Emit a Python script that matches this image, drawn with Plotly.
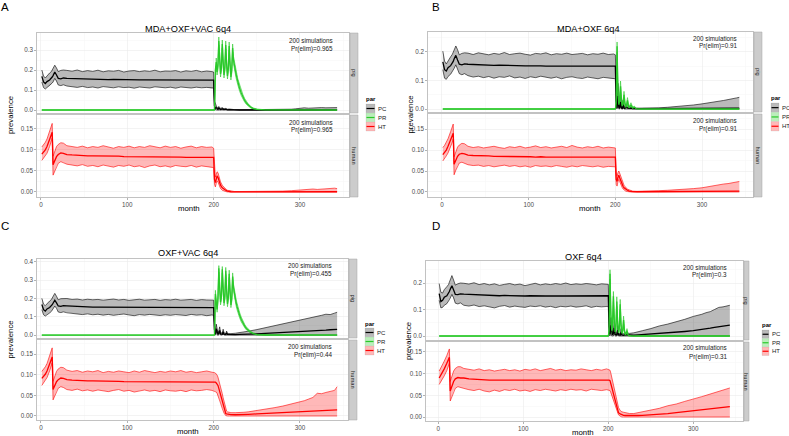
import plotly.graph_objects as go

W, H = 789, 436
FONT = "Liberation Sans, Arial, sans-serif"

# ------------------------------------------------------------------ data
TITLES = ["MDA+OXF+VAC 6q4", "MDA+OXF 6q4", "OXF+VAC 6q4", "OXF 6q4"]
LETTERS = ["A", "B", "C", "D"]
N_SIM = 200
PR_ELIM_PIG = ["0.965", "0.91", "0.455", "0.3"]
PR_ELIM_HUMAN = ["0.965", "0.91", "0.44", "0.31"]
SERIES = ["PC", "PR", "HT"]
FACETS = ["pig", "human"]
X_TICKS = [0, 100, 200, 300]
X_MINOR = [50, 150, 250, 350]
PIG_Y_TICKS = [[0, 0.1, 0.2, 0.3], [0, 0.1, 0.2], [0, 0.1, 0.2, 0.3, 0.4], [0, 0.1, 0.2]]
HUMAN_Y_TICKS = [0, 0.05, 0.10, 0.15]

MONTHS_PRE = [1, 3, 5, 7, 10, 12, 13, 14, 16, 18, 20, 23, 26,
              30, 36, 42, 48, 54, 60, 66, 72, 78, 84, 90, 96, 102, 108, 114, 120,
              126, 132, 138, 144, 150, 156, 162, 168, 174, 180, 186, 192, 198, 200]

# ---- panel A
A_PC_MED_PRE = [0.168,0.140,0.132,0.142,0.150,0.158,0.165,0.172,0.190,0.175,0.158,0.156,0.160,
 0.158,0.157,0.155,0.154,0.154,0.153,0.153,0.152,0.152,0.153,
 0.152,0.152,0.151,0.152,0.151,0.151,0.151,0.150,0.151,0.151,
 0.150,0.150,0.151,0.150,0.150,0.151,0.150,0.150,0.149,0.149]
A_PC_LO_PRE = [0.140,0.112,0.105,0.112,0.120,0.128,0.135,0.140,0.158,0.145,0.125,0.122,0.126,
 0.120,0.116,0.113,0.118,0.112,0.115,0.110,0.117,0.113,0.111,
 0.116,0.112,0.114,0.109,0.115,0.112,0.110,0.116,0.113,0.111,
 0.114,0.109,0.115,0.112,0.110,0.114,0.111,0.113,0.108,0.110]
A_PC_HI_PRE = [0.200,0.170,0.160,0.172,0.185,0.192,0.200,0.208,0.224,0.210,0.192,0.198,0.200,
 0.198,0.194,0.200,0.192,0.197,0.193,0.199,0.191,0.196,0.194,
 0.198,0.190,0.195,0.197,0.192,0.196,0.193,0.199,0.191,0.195,
 0.194,0.197,0.190,0.196,0.193,0.198,0.191,0.195,0.192,0.190]
A_HT_MED_PRE = [0.090,0.095,0.100,0.108,0.125,0.138,0.142,0.065,0.075,0.084,0.089,0.093,0.092,
 0.089,0.088,0.087,0.087,0.086,0.086,0.086,0.085,0.085,0.085,
 0.085,0.084,0.084,0.084,0.084,0.084,0.083,0.083,0.083,0.083,
 0.083,0.083,0.083,0.082,0.082,0.082,0.082,0.082,0.082,0.082]
A_HT_LO_PRE = [0.075,0.080,0.085,0.092,0.108,0.120,0.128,0.040,0.050,0.062,0.068,0.072,0.070,
 0.066,0.064,0.062,0.065,0.061,0.063,0.060,0.064,0.062,0.059,
 0.063,0.061,0.064,0.060,0.062,0.058,0.062,0.064,0.060,0.062,
 0.059,0.063,0.061,0.060,0.063,0.059,0.062,0.060,0.058,0.058]
A_HT_HI_PRE = [0.107,0.112,0.118,0.126,0.145,0.158,0.163,0.085,0.098,0.108,0.113,0.117,0.116,
 0.110,0.108,0.106,0.109,0.105,0.108,0.106,0.110,0.107,0.104,
 0.108,0.106,0.109,0.105,0.108,0.106,0.110,0.107,0.105,0.109,
 0.106,0.108,0.104,0.107,0.109,0.105,0.108,0.106,0.107,0.104]
A_MONTHS_POST = [201,202,203,204,205,206,207,208,210,212,214,216,218,220,224,230,240,250,260,270,
 280,290,295,300,305,310,315,320,325,330,335,340,343]
A_PC_MED_POST = [0.020,0.008,0.012,0.004,0.003,0.010,0.003,0.002,0.006,0.002,0.004,0.001,0.002,0.001,
 0.0005,0,0,0,0,0,0,0,0,0,0,0,0,0.0003,0.0003,0.0004,0.0004,0.0005,0.0005]
A_PC_LO_POST = [0.004,0,0,0,0,0,0,0,0,0,0,0,0,0,0,0,0,0,0,0,0,0,0,0,0,0,0,0,0,0,0,0,0]
A_PC_HI_POST = [0.045,0.025,0.022,0.012,0.010,0.018,0.010,0.008,0.012,0.006,0.008,0.004,0.005,0.003,
 0.002,0.001,0.001,0.001,0.002,0.002,0.003,0.004,0.006,0.010,0.011,0.009,0.011,0.010,0.012,0.011,
 0.012,0.013,0.012]
A_HT_MED_POST = [0.030,0.022,0.030,0.038,0.035,0.028,0.021,0.016,0.010,0.006,0.004,0.002,0.001,0.0005,
 0.0003,0.0003,0.0003,0.0003,0.0003,0.0003,0.0003,0.0003,0.0003,0.0004,0.0004,0.0004,0.0004,0.0005,
 0.0005,0.0005,0.0005,0.0005,0.0005]
A_HT_LO_POST = [0.018,0.012,0.020,0.026,0.024,0.018,0.012,0.008,0.004,0.002,0.001,0,0,0,0,0,0,0,0,0,
 0,0,0,0,0,0,0,0,0,0,0,0,0]
A_HT_HI_POST = [0.045,0.035,0.042,0.048,0.046,0.038,0.030,0.024,0.016,0.010,0.007,0.004,0.003,0.002,
 0.001,0.001,0.001,0.001,0.0015,0.002,0.002,0.003,0.004,0.005,0.006,0.006,0.007,0.006,0.007,0.008,
 0.008,0.009,0.008]
A_PR_MONTHS = [1,200,201,202,203,204,205,206,207,208,209,210,211,212,213,214,215,216,217,218,
 219,220,221,222,223,224,225,226,227,228,229,230,232,234,236,238,240,243,246,250,260,343]
A_PR_MED = [0,0,0,0.20,0.24,0.19,0.22,0.345,0.25,0.18,0.21,0.33,0.24,0.175,0.21,0.325,0.235,0.17,0.205,0.32,
 0.23,0.165,0.20,0.31,0.25,0.22,0.20,0.18,0.16,0.14,0.125,0.11,0.085,0.065,0.048,0.035,0.025,0.014,0.007,
 0.003,0.0003,0]
A_PR_LO = [0,0,0,0.18,0.22,0.175,0.205,0.325,0.232,0.165,0.195,0.31,0.222,0.16,0.195,0.305,0.218,0.155,0.19,
 0.30,0.212,0.15,0.185,0.29,0.232,0.2,0.18,0.16,0.142,0.124,0.109,0.095,0.072,0.054,0.039,0.028,0.019,
 0.01,0.004,0.001,0,0]
A_PR_HI = [0,0,0.005,0.22,0.26,0.205,0.235,0.365,0.268,0.195,0.225,0.35,0.258,0.19,0.225,0.345,0.252,0.185,
 0.22,0.34,0.248,0.18,0.215,0.33,0.268,0.24,0.22,0.2,0.178,0.156,0.141,0.125,0.098,0.076,0.057,0.042,
 0.031,0.018,0.01,0.005,0.001,0]

# ---- panel B
B_PC_MED_PRE = [0.165,0.138,0.133,0.145,0.152,0.160,0.167,0.175,0.188,0.172,0.157,0.155,0.158,
 0.157,0.156,0.155,0.154,0.154,0.153,0.154,0.153,0.152,0.152,
 0.152,0.151,0.151,0.152,0.151,0.150,0.150,0.151,0.150,0.150,
 0.150,0.151,0.150,0.150,0.150,0.151,0.150,0.150,0.150,0.150]
B_PC_LO_PRE = [0.138,0.108,0.104,0.114,0.122,0.130,0.136,0.142,0.155,0.142,0.124,0.120,0.124,
 0.117,0.112,0.115,0.110,0.114,0.108,0.113,0.111,0.116,0.109,
 0.112,0.107,0.113,0.110,0.115,0.111,0.108,0.112,0.106,0.111,
 0.113,0.109,0.107,0.112,0.110,0.106,0.111,0.108,0.105,0.106]
B_PC_HI_PRE = [0.203,0.168,0.158,0.170,0.183,0.192,0.200,0.210,0.221,0.208,0.190,0.195,0.197,
 0.196,0.191,0.197,0.193,0.190,0.195,0.192,0.198,0.191,0.194,
 0.196,0.192,0.189,0.195,0.193,0.197,0.190,0.194,0.192,0.196,
 0.191,0.193,0.195,0.190,0.194,0.192,0.196,0.191,0.193,0.190]
B_HT_MED_PRE = [0.089,0.094,0.100,0.109,0.124,0.136,0.140,0.066,0.076,0.085,0.090,0.092,0.091,
 0.088,0.087,0.087,0.086,0.086,0.085,0.085,0.085,0.084,0.084,
 0.084,0.084,0.084,0.083,0.084,0.083,0.083,0.083,0.083,0.083,
 0.083,0.083,0.083,0.083,0.083,0.083,0.082,0.083,0.083,0.083]
B_HT_LO_PRE = [0.074,0.079,0.086,0.093,0.107,0.119,0.126,0.041,0.052,0.063,0.069,0.071,0.069,
 0.065,0.063,0.064,0.061,0.063,0.060,0.062,0.064,0.061,0.063,
 0.060,0.062,0.059,0.063,0.061,0.062,0.060,0.063,0.061,0.059,
 0.062,0.060,0.063,0.061,0.060,0.062,0.059,0.061,0.060,0.060]
B_HT_HI_PRE = [0.106,0.111,0.119,0.127,0.144,0.157,0.162,0.084,0.097,0.107,0.112,0.116,0.115,
 0.109,0.106,0.108,0.105,0.107,0.109,0.106,0.104,0.108,0.106,
 0.109,0.105,0.107,0.110,0.106,0.108,0.105,0.107,0.109,0.106,
 0.111,0.107,0.105,0.108,0.106,0.109,0.105,0.107,0.106,0.105]
B_MONTHS_POST = [201,202,203,204,205,206,207,208,209,210,211,212,214,216,218,220,225,230,240,250,
 260,270,280,290,300,305,310,315,320,325,330,335,340,343]
B_PC_MED_POST = [0.030,0.004,0.045,0.006,0.003,0.025,0.004,0.002,0.015,0.003,0.002,0.008,0.004,0.002,
 0.003,0.001,0.001,0.001,0.001,0.001,0.001,0.0015,0.0015,0.002,0.002,0.002,0.002,0.002,0.0025,0.0025,
 0.003,0.003,0.003,0.003]
B_PC_LO_POST = [0.005,0,0.030,0,0,0.012,0,0,0.006,0,0,0,0,0,0,0,0,0,0,0,0,0,0,0,0,0,0,0,0,0,0,0,0,0]
B_PC_HI_POST = [0.070,0.020,0.090,0.025,0.015,0.050,0.015,0.010,0.032,0.010,0.008,0.018,0.010,0.006,
 0.006,0.003,0.003,0.003,0.004,0.004,0.006,0.008,0.011,0.014,0.018,0.020,0.022,0.026,0.027,0.030,
 0.033,0.035,0.039,0.041]
B_HT_MED_POST = [0.030,0.025,0.035,0.040,0.034,0.028,0.022,0.017,0.013,0.010,0.008,0.006,0.004,0.002,
 0.0012,0.0008,0.0005,0.0005,0.0005,0.0006,0.0007,0.0008,0.001,0.001,0.0012,0.0013,0.0014,0.0015,
 0.0016,0.0017,0.0018,0.002,0.002,0.002]
B_HT_LO_POST = [0.018,0.014,0.024,0.030,0.025,0.019,0.014,0.010,0.007,0.005,0.003,0.002,0.001,0,0,0,0,
 0,0,0,0,0,0,0,0,0,0,0,0,0,0,0,0,0]
B_HT_HI_POST = [0.045,0.038,0.046,0.050,0.045,0.038,0.031,0.025,0.020,0.016,0.013,0.010,0.007,0.005,
 0.003,0.002,0.0015,0.0015,0.002,0.003,0.004,0.005,0.006,0.008,0.010,0.012,0.014,0.016,0.017,0.019,
 0.020,0.022,0.024,0.025]
B_PR_MONTHS = [1,200,201,202,203,204,205,206,207,208,209,210,211,212,213,214,215,216,218,220,222,224,230,343]
B_PR_MED = [0,0,0.02,0.22,0.06,0.015,0.03,0.08,0.03,0.01,0.02,0.05,0.02,0.006,0.012,0.03,0.012,0.004,
 0.015,0.003,0.006,0.001,0,0]
B_PR_LO = [0,0,0.01,0.2,0.045,0.008,0.02,0.065,0.02,0.004,0.012,0.04,0.012,0.002,0.006,0.022,0.006,0.001,
 0.009,0.001,0.003,0,0,0]
B_PR_HI = [0,0,0.03,0.235,0.075,0.025,0.042,0.098,0.042,0.018,0.03,0.062,0.03,0.012,0.02,0.04,0.02,0.008,
 0.022,0.007,0.01,0.003,0.001,0]

# ---- panel C
C_PC_MED_PRE = [0.167,0.139,0.131,0.143,0.151,0.159,0.166,0.174,0.191,0.176,0.159,0.157,0.161,
 0.160,0.158,0.156,0.155,0.154,0.153,0.153,0.153,0.152,0.152,
 0.152,0.152,0.151,0.151,0.151,0.151,0.151,0.150,0.150,0.151,
 0.150,0.150,0.150,0.150,0.150,0.151,0.150,0.150,0.150,0.150]
C_PC_LO_PRE = [0.139,0.111,0.104,0.113,0.121,0.129,0.136,0.141,0.159,0.146,0.126,0.123,0.127,
 0.122,0.118,0.115,0.112,0.116,0.111,0.114,0.109,0.113,0.108,
 0.112,0.115,0.110,0.106,0.112,0.109,0.113,0.110,0.107,0.111,
 0.108,0.112,0.110,0.107,0.113,0.109,0.111,0.106,0.110,0.108]
C_PC_HI_PRE = [0.201,0.169,0.161,0.173,0.186,0.194,0.202,0.210,0.228,0.212,0.193,0.199,0.201,
 0.200,0.195,0.197,0.192,0.196,0.193,0.195,0.191,0.194,0.197,
 0.192,0.195,0.190,0.194,0.196,0.191,0.193,0.195,0.190,0.194,
 0.192,0.196,0.191,0.193,0.195,0.190,0.194,0.192,0.193,0.191]
C_HT_MED_PRE = [0.091,0.096,0.101,0.109,0.126,0.139,0.143,0.064,0.074,0.083,0.088,0.092,0.091,
 0.088,0.087,0.086,0.086,0.085,0.085,0.085,0.084,0.084,0.084,
 0.084,0.083,0.083,0.083,0.083,0.083,0.083,0.083,0.083,0.083,
 0.083,0.083,0.083,0.083,0.083,0.083,0.083,0.083,0.083,0.083]
C_HT_LO_PRE = [0.074,0.080,0.086,0.093,0.109,0.121,0.129,0.039,0.049,0.061,0.067,0.071,0.069,
 0.064,0.062,0.065,0.061,0.063,0.060,0.063,0.061,0.059,0.062,
 0.064,0.060,0.062,0.058,0.061,0.063,0.060,0.062,0.059,0.063,
 0.061,0.060,0.062,0.059,0.063,0.061,0.062,0.064,0.062,0.061]
C_HT_HI_PRE = [0.108,0.113,0.119,0.127,0.146,0.159,0.165,0.084,0.097,0.108,0.114,0.118,0.117,
 0.111,0.108,0.110,0.106,0.109,0.107,0.110,0.105,0.108,0.106,
 0.109,0.107,0.105,0.109,0.106,0.110,0.107,0.105,0.108,0.106,
 0.109,0.107,0.110,0.106,0.108,0.105,0.107,0.109,0.106,0.106]
C_MONTHS_POST = [201,202,203,204,205,206,207,208,210,211,212,214,215,216,218,220,225,230,235,240,
 250,260,270,280,290,300,305,310,315,320,325,330,335,340,343]
C_PC_MED_POST = [0.030,0.006,0.035,0.008,0.004,0.012,0.025,0.006,0.004,0.018,0.005,0.003,0.012,0.004,
 0.003,0.003,0.003,0.004,0.004,0.005,0.007,0.009,0.011,0.013,0.015,0.017,0.018,0.020,0.021,0.023,
 0.025,0.027,0.029,0.030,0.031]
C_PC_LO_POST = [0.005,0,0.020,0,0,0,0.012,0,0,0.006,0,0,0,0,0,0,0,0,0,0,0,0,0,0,0,0,0,0,0,0,0,0,0,0,0]
C_PC_HI_POST = [0.070,0.020,0.060,0.020,0.012,0.025,0.045,0.015,0.010,0.032,0.012,0.008,0.022,0.009,
 0.008,0.008,0.010,0.013,0.018,0.021,0.030,0.040,0.050,0.062,0.070,0.080,0.085,0.090,0.094,0.100,
 0.108,0.114,0.112,0.120,0.125]
C_HT_MED_POST = [0.082,0.082,0.080,0.078,0.074,0.067,0.059,0.051,0.036,0.028,0.021,0.006,0.005,0.0045,
 0.004,0.0035,0.003,0.003,0.0035,0.004,0.005,0.006,0.007,0.008,0.009,0.010,0.0105,0.011,0.0115,0.012,
 0.013,0.0135,0.014,0.015,0.015]
C_HT_LO_POST = [0.060,0.060,0.058,0.055,0.050,0.044,0.038,0.031,0.018,0.012,0.007,0.001,0,0,0,0,0,0,0,0,
 0,0,0,0,0,0,0,0,0,0,0,0,0,0,0]
C_HT_HI_POST = [0.105,0.104,0.102,0.099,0.094,0.087,0.079,0.071,0.054,0.044,0.034,0.016,0.012,0.010,
 0.009,0.008,0.008,0.008,0.009,0.010,0.013,0.016,0.020,0.024,0.029,0.035,0.037,0.041,0.045,0.055,
 0.054,0.057,0.060,0.062,0.071]
C_PR_MONTHS = [1,200,201,202,203,204,205,206,207,208,209,210,211,212,213,214,215,216,217,218,
 219,220,221,222,223,224,225,226,227,228,229,230,232,234,236,238,240,243,246,250,260,343]
C_PR_MED = [0,0,0,0.225,0.17,0.14,0.20,0.365,0.26,0.18,0.21,0.36,0.255,0.175,0.21,0.352,0.25,0.17,0.205,
 0.335,0.24,0.165,0.20,0.32,0.26,0.225,0.20,0.178,0.158,0.14,0.124,0.11,0.085,0.065,0.049,0.036,0.026,
 0.015,0.008,0.003,0.0005,0]
C_PR_LO = [0,0,0,0.205,0.155,0.125,0.185,0.345,0.242,0.165,0.195,0.34,0.237,0.16,0.195,0.332,0.232,0.155,
 0.19,0.315,0.222,0.15,0.185,0.30,0.242,0.205,0.18,0.16,0.14,0.123,0.108,0.095,0.072,0.054,0.04,0.028,
 0.019,0.01,0.004,0.001,0,0]
C_PR_HI = [0,0,0.005,0.245,0.185,0.155,0.215,0.38,0.278,0.195,0.225,0.375,0.273,0.19,0.225,0.37,0.268,
 0.185,0.22,0.355,0.258,0.18,0.215,0.34,0.278,0.245,0.22,0.196,0.176,0.157,0.14,0.125,0.098,0.076,0.058,
 0.044,0.033,0.02,0.012,0.006,0.001,0]

# ---- panel D
D_PC_MED_PRE = [0.160,0.130,0.135,0.146,0.152,0.160,0.168,0.176,0.190,0.174,0.157,0.156,0.159,
 0.158,0.157,0.156,0.155,0.154,0.153,0.153,0.152,0.153,0.152,
 0.152,0.152,0.151,0.152,0.151,0.151,0.151,0.151,0.152,0.151,
 0.151,0.151,0.151,0.152,0.151,0.151,0.151,0.152,0.152,0.152]
D_PC_LO_PRE = [0.135,0.106,0.108,0.116,0.122,0.130,0.137,0.143,0.157,0.144,0.124,0.121,0.125,
 0.116,0.113,0.117,0.111,0.114,0.110,0.106,0.112,0.115,0.109,
 0.113,0.110,0.108,0.113,0.111,0.114,0.109,0.112,0.107,0.112,
 0.110,0.113,0.109,0.111,0.114,0.108,0.112,0.110,0.113,0.112]
D_PC_HI_PRE = [0.198,0.165,0.162,0.175,0.186,0.194,0.203,0.212,0.228,0.211,0.192,0.197,0.200,
 0.199,0.196,0.201,0.194,0.198,0.193,0.197,0.191,0.195,0.198,
 0.193,0.196,0.190,0.195,0.199,0.193,0.197,0.194,0.198,0.195,
 0.200,0.194,0.197,0.195,0.198,0.196,0.193,0.197,0.195,0.195]
D_HT_MED_PRE = [0.090,0.096,0.103,0.111,0.124,0.134,0.138,0.060,0.072,0.082,0.088,0.091,0.090,
 0.090,0.088,0.087,0.086,0.086,0.085,0.085,0.085,0.085,0.085,
 0.085,0.085,0.085,0.085,0.085,0.085,0.085,0.085,0.085,0.085,
 0.085,0.085,0.085,0.086,0.086,0.085,0.085,0.085,0.085,0.085]
D_HT_LO_PRE = [0.075,0.081,0.087,0.095,0.107,0.118,0.124,0.037,0.048,0.060,0.066,0.070,0.069,
 0.066,0.063,0.061,0.064,0.060,0.058,0.062,0.059,0.063,0.061,
 0.064,0.060,0.062,0.059,0.063,0.061,0.064,0.062,0.060,0.063,
 0.061,0.064,0.062,0.063,0.060,0.064,0.062,0.061,0.063,0.062]
D_HT_HI_PRE = [0.106,0.113,0.120,0.129,0.142,0.152,0.157,0.082,0.095,0.106,0.112,0.116,0.116,
 0.112,0.110,0.108,0.111,0.107,0.109,0.106,0.108,0.110,0.107,
 0.109,0.106,0.110,0.108,0.111,0.107,0.109,0.112,0.108,0.110,
 0.107,0.109,0.108,0.111,0.109,0.107,0.110,0.108,0.111,0.110]
D_MONTHS_POST = [201,202,203,204,205,206,207,208,210,211,212,214,215,216,218,220,225,230,235,240,
 250,260,270,280,290,300,305,310,315,320,325,330,335,340,343]
D_PC_MED_POST = [0.035,0.006,0.040,0.008,0.004,0.010,0.030,0.006,0.004,0.022,0.005,0.003,0.014,0.004,
 0.003,0.005,0.003,0.003,0.004,0.005,0.007,0.009,0.011,0.014,0.017,0.020,0.022,0.025,0.027,0.030,
 0.033,0.036,0.038,0.040,0.041]
D_PC_LO_POST = [0.005,0,0.020,0,0,0,0.012,0,0,0.008,0,0,0,0,0,0,0,0,0,0,0,0,0,0,0,0,0,0,0,0,0,0,0,0,0]
D_PC_HI_POST = [0.080,0.020,0.070,0.020,0.012,0.025,0.055,0.015,0.010,0.040,0.012,0.008,0.028,0.010,
 0.009,0.012,0.010,0.012,0.015,0.020,0.028,0.038,0.045,0.053,0.063,0.074,0.077,0.082,0.088,0.092,
 0.100,0.108,0.110,0.115,0.116]
D_HT_MED_POST = [0.085,0.084,0.078,0.070,0.062,0.054,0.046,0.038,0.022,0.015,0.010,0.007,0.006,0.005,
 0.004,0.0035,0.003,0.003,0.0035,0.004,0.005,0.007,0.008,0.010,0.012,0.014,0.015,0.016,0.017,0.019,
 0.020,0.021,0.022,0.023,0.024]
D_HT_LO_POST = [0.062,0.061,0.056,0.050,0.044,0.038,0.032,0.026,0.014,0.009,0.005,0.002,0.001,0,0,0,0,0,
 0,0,0,0,0,0,0,0,0,0,0,0,0,0,0,0,0]
D_HT_HI_POST = [0.110,0.108,0.101,0.093,0.085,0.076,0.067,0.058,0.040,0.030,0.022,0.015,0.013,0.012,
 0.011,0.010,0.008,0.008,0.010,0.012,0.017,0.020,0.026,0.030,0.036,0.041,0.043,0.047,0.050,0.053,
 0.055,0.058,0.062,0.064,0.067]
D_PR_MONTHS = [1,200,201,202,203,204,205,206,207,208,209,210,211,212,213,214,215,216,217,218,
 219,220,221,222,223,224,226,230,343]
D_PR_MED = [0,0,0.02,0.235,0.08,0.02,0.04,0.15,0.06,0.015,0.035,0.13,0.05,0.012,0.03,0.12,0.04,0.01,0.02,
 0.06,0.02,0.005,0.008,0.02,0.006,0.002,0.001,0,0]
D_PR_LO = [0,0,0.01,0.215,0.065,0.01,0.028,0.13,0.045,0.006,0.024,0.112,0.036,0.005,0.02,0.1,0.028,0.004,
 0.012,0.045,0.012,0.001,0.003,0.012,0.002,0,0,0,0]
D_PR_HI = [0,0,0.03,0.25,0.095,0.03,0.052,0.168,0.075,0.024,0.046,0.148,0.064,0.02,0.04,0.138,0.052,0.016,
 0.028,0.075,0.028,0.009,0.013,0.028,0.01,0.004,0.002,0.001,0]


def joined(pre, post):
    return list(pre) + list(post)


DATA = [
    dict(PC=(joined(MONTHS_PRE, A_MONTHS_POST), joined(A_PC_MED_PRE, A_PC_MED_POST),
             joined(A_PC_LO_PRE, A_PC_LO_POST), joined(A_PC_HI_PRE, A_PC_HI_POST)),
         PR=(A_PR_MONTHS, A_PR_MED, A_PR_LO, A_PR_HI),
         HT=(joined(MONTHS_PRE, A_MONTHS_POST), joined(A_HT_MED_PRE, A_HT_MED_POST),
             joined(A_HT_LO_PRE, A_HT_LO_POST), joined(A_HT_HI_PRE, A_HT_HI_POST))),
    dict(PC=(joined(MONTHS_PRE, B_MONTHS_POST), joined(B_PC_MED_PRE, B_PC_MED_POST),
             joined(B_PC_LO_PRE, B_PC_LO_POST), joined(B_PC_HI_PRE, B_PC_HI_POST)),
         PR=(B_PR_MONTHS, B_PR_MED, B_PR_LO, B_PR_HI),
         HT=(joined(MONTHS_PRE, B_MONTHS_POST), joined(B_HT_MED_PRE, B_HT_MED_POST),
             joined(B_HT_LO_PRE, B_HT_LO_POST), joined(B_HT_HI_PRE, B_HT_HI_POST))),
    dict(PC=(joined(MONTHS_PRE, C_MONTHS_POST), joined(C_PC_MED_PRE, C_PC_MED_POST),
             joined(C_PC_LO_PRE, C_PC_LO_POST), joined(C_PC_HI_PRE, C_PC_HI_POST)),
         PR=(C_PR_MONTHS, C_PR_MED, C_PR_LO, C_PR_HI),
         HT=(joined(MONTHS_PRE, C_MONTHS_POST), joined(C_HT_MED_PRE, C_HT_MED_POST),
             joined(C_HT_LO_PRE, C_HT_LO_POST), joined(C_HT_HI_PRE, C_HT_HI_POST))),
    dict(PC=(joined(MONTHS_PRE, D_MONTHS_POST), joined(D_PC_MED_PRE, D_PC_MED_POST),
             joined(D_PC_LO_PRE, D_PC_LO_POST), joined(D_PC_HI_PRE, D_PC_HI_POST)),
         PR=(D_PR_MONTHS, D_PR_MED, D_PR_LO, D_PR_HI),
         HT=(joined(MONTHS_PRE, D_MONTHS_POST), joined(D_HT_MED_PRE, D_HT_MED_POST),
             joined(D_HT_LO_PRE, D_HT_LO_POST), joined(D_HT_HI_PRE, D_HT_HI_POST))),
]
for d in DATA:
    for s in SERIES:
        m, md, lo, hi = d[s]
        assert len(m) == len(md) == len(lo) == len(hi), (s, len(m), len(md), len(lo), len(hi))

# ------------------------------------------------------------------ layout geometry (pixels)
GEOM = [
    dict(px=(37, 349), pig=(33, 113), hum=(115, 197), strip=(350, 358), xr=(-4.6, 356.8),
         pig_yr=(-0.015, 0.385), hum_yr=(-0.012, 0.183), title=(188, 29), letter=(5, 7),
         month=(189, 208), prev_x=10, ann_r=334, pig_ann=(40, 49.3), hum_ann=(122.7, 130),
         leg=(366, 9, 104, 9, 99)),
    dict(px=(428, 753), pig=(32, 112), hum=(114, 197), strip=(754, 762), xr=(-16.1, 358.8),
         pig_yr=(-0.0105, 0.27), hum_yr=(-0.012, 0.186), title=(588, 29), letter=(436, 7),
         month=(590, 208), prev_x=410, ann_r=738, pig_ann=(38.3, 46), hum_ann=(120.7, 129.3),
         leg=(771, 8, 103, 9.3, 98)),
    dict(px=(37, 348), pig=(259, 338), hum=(340, 420), strip=(349, 357), xr=(-4.6, 355.6),
         pig_yr=(-0.016, 0.416), hum_yr=(-0.0097, 0.184), title=(188, 253), letter=(5, 226),
         month=(188, 431), prev_x=10, ann_r=333, pig_ann=(265.7, 274), hum_ann=(346.3, 354.7),
         leg=(365, 9, 328, 9, 324)),
    dict(px=(426, 743), pig=(261, 340), hum=(342, 421), strip=(744, 749), xr=(-14.5, 358.5),
         pig_yr=(-0.015, 0.283), hum_yr=(-0.0092, 0.173), title=(583, 257), letter=(436, 226),
         month=(583, 432), prev_x=408, ann_r=728, pig_ann=(267.3, 275.3), hum_ann=(347.3, 356.7),
         leg=(762, 7, 330, 8.5, 325)),
]

COLORS = {"PC": ("#000000", "rgba(0,0,0,0.27)"),
          "PR": ("#2ac92a", "rgba(42,201,42,0.32)"),
          "HT": ("#ff0000", "rgba(255,0,0,0.28)")}


def fx(x):
    return x / W


def fy(y):
    return 1 - y / H


fig = go.Figure()
layout = dict(width=W, height=H, margin=dict(l=0, r=0, t=0, b=0), paper_bgcolor="white",
              plot_bgcolor="white", showlegend=False, hovermode=False,
              font=dict(family=FONT, size=6, color="#4d4d4d"))
shapes, annos = [], []


def axis_ids(k):
    return ("x" if k == 1 else f"x{k}"), ("y" if k == 1 else f"y{k}")


def add_ribbon(k, name, m, lo, hi):
    line, fill = COLORS[name]
    xa, ya = axis_ids(k)
    fig.add_trace(go.Scatter(x=list(m) + list(m)[::-1], y=list(hi) + list(lo)[::-1], mode="lines",
                             fill="toself", fillcolor=fill, line=dict(width=0, color=fill),
                             xaxis=xa, yaxis=ya, hoverinfo="skip"))
    for edge in (lo, hi):
        fig.add_trace(go.Scatter(x=m, y=edge, mode="lines", line=dict(color=line, width=0.6),
                                 xaxis=xa, yaxis=ya, hoverinfo="skip"))


def add_median(k, name, m, med):
    line, _ = COLORS[name]
    xa, ya = axis_ids(k)
    fig.add_trace(go.Scatter(x=m, y=med, mode="lines", line=dict(color=line, width=1.3),
                             xaxis=xa, yaxis=ya, hoverinfo="skip"))


def txt(x, y, text, size, color="#1a1a1a", xanchor="center", angle=0, yanchor="middle"):
    annos.append(dict(x=fx(x), y=fy(y), xref="paper", yref="paper", text=text, showarrow=False,
                      xanchor=xanchor, yanchor=yanchor, textangle=angle, borderpad=0,
                      font=dict(family=FONT, size=size, color=color)))


k = 0
for p, g in enumerate(GEOM):
    d = DATA[p]
    for f, facet in enumerate(FACETS):
        k += 1
        top, bot = g["pig"] if f == 0 else g["hum"]
        xa, ya = axis_ids(k)
        xname = "xaxis" if k == 1 else f"xaxis{k}"
        yname = "yaxis" if k == 1 else f"yaxis{k}"
        bottom = f == 1
        layout[xname] = dict(domain=[fx(g["px"][0]), fx(g["px"][1])], range=list(g["xr"]), anchor=ya,
                             tickvals=X_TICKS, showticklabels=bottom, ticks="outside" if bottom else "",
                             ticklen=2, tickwidth=0.6, tickcolor="#7f7f7f",
                             tickfont=dict(size=6.3, color="#4d4d4d"),
                             showgrid=True, gridcolor="#ebebeb", gridwidth=0.6,
                             minor=dict(tickvals=X_MINOR, showgrid=True, gridcolor="#f6f6f6", gridwidth=0.5),
                             showline=True, mirror=True, linecolor="#b3b3b3", linewidth=0.8, zeroline=False)
        if f == 0:
            yt = PIG_Y_TICKS[p]
            ymin = [v + 0.05 for v in yt]
            yr = g["pig_yr"]
            fmt = ".1f"
        else:
            yt = HUMAN_Y_TICKS
            ymin = [v + 0.025 for v in yt]
            yr = g["hum_yr"]
            fmt = ".2f"
        layout[yname] = dict(domain=[fy(bot), fy(top)], range=list(yr), anchor=xa,
                             tickvals=yt, tickformat=fmt, ticks="outside", ticklen=2, tickwidth=0.6,
                             tickcolor="#7f7f7f", tickfont=dict(size=6.3, color="#4d4d4d"),
                             showgrid=True, gridcolor="#ebebeb", gridwidth=0.6,
                             minor=dict(tickvals=ymin, showgrid=True, gridcolor="#f6f6f6", gridwidth=0.5),
                             showline=True, mirror=True, linecolor="#b3b3b3", linewidth=0.8, zeroline=False)
        if f == 0:
            add_ribbon(k, "PC", d["PC"][0], d["PC"][2], d["PC"][3])
            add_ribbon(k, "PR", d["PR"][0], d["PR"][2], d["PR"][3])
            add_median(k, "PC", d["PC"][0], d["PC"][1])
            add_median(k, "PR", d["PR"][0], d["PR"][1])
            ann_y = g["pig_ann"]
            elim = PR_ELIM_PIG[p]
        else:
            add_ribbon(k, "HT", d["HT"][0], d["HT"][2], d["HT"][3])
            add_median(k, "HT", d["HT"][0], d["HT"][1])
            ann_y = g["hum_ann"]
            elim = PR_ELIM_HUMAN[p]
        # strip
        shapes.append(dict(type="rect", xref="paper", yref="paper", x0=fx(g["strip"][0]), x1=fx(g["strip"][1]),
                           y0=fy(bot), y1=fy(top), fillcolor="#cccccc", line=dict(color="#a6a6a6", width=0.5),
                           layer="above"))
        txt((g["strip"][0] + g["strip"][1]) / 2, (top + bot) / 2, facet, 5.8, angle=90)
        # in-panel annotation
        txt(g["ann_r"], ann_y[0], f"{N_SIM} simulations", 6.3, xanchor="right")
        txt(g["ann_r"], ann_y[1], f"Pr(elim)={elim}", 6.3, xanchor="right")

    # titles & labels
    txt(g["title"][0], g["title"][1], TITLES[p], 9.2, color="#000000")
    txt(g["letter"][0], g["letter"][1], LETTERS[p], 11.5, color="#000000")
    txt(g["month"][0], g["month"][1], "month", 7.8, color="#000000")
    txt(g["prev_x"], (g["pig"][0] + g["hum"][1]) / 2, "prevalence", 7.8, color="#000000", angle=-90)

    # legend
    lx, lw, ly, lh, par_y = g["leg"]
    txt(lx - 1, par_y, "<b>par</b>", 6, color="#000000", xanchor="left")
    for i, s in enumerate(SERIES):
        line, fill = COLORS[s]
        y0 = ly + i * lh
        shapes.append(dict(type="rect", xref="paper", yref="paper", x0=fx(lx), x1=fx(lx + lw),
                           y0=fy(y0 + lh), y1=fy(y0), fillcolor="white", line=dict(color="#d9d9d9", width=0.5)))
        shapes.append(dict(type="rect", xref="paper", yref="paper", x0=fx(lx), x1=fx(lx + lw),
                           y0=fy(y0 + lh), y1=fy(y0), fillcolor=fill, line=dict(width=0)))
        shapes.append(dict(type="line", xref="paper", yref="paper", x0=fx(lx + 0.5), x1=fx(lx + lw - 0.5),
                           y0=fy(y0 + lh / 2), y1=fy(y0 + lh / 2), line=dict(color=line, width=1.2)))
        txt(lx + lw + 1.8, y0 + lh / 2, s, 6, color="#1a1a1a", xanchor="left")

layout["shapes"] = shapes
layout["annotations"] = annos
fig.update_layout(**layout)
fig.write_html("out.html", config={"displayModeBar": False, "staticPlot": True},
               post_script="document.body.style.margin='0';document.body.style.overflow='hidden';")
